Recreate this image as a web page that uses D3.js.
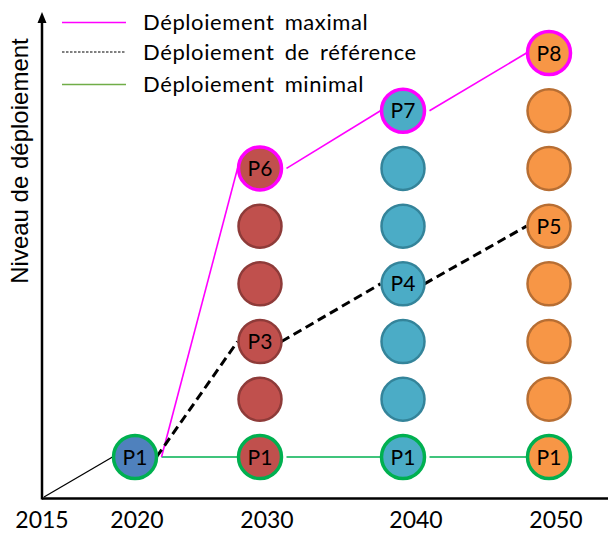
<!DOCTYPE html>
<html>
<head>
<meta charset="utf-8">
<script src="https://cdn.jsdelivr.net/npm/d3@7"></script>
<style>
  html, body { margin: 0; padding: 0; background: #fff; }
  svg { display: block; }
</style>
</head>
<body>
<svg id="chart" width="608" height="534"></svg>
<script>
// ---- data ----
const years = [2020, 2030, 2040, 2050];
const axisYears = [2015, 2020, 2030, 2040, 2050];
const circlesPerYear = [1, 6, 7, 8];
const fillColors = ["#4F81BD", "#C0504D", "#4BACC6", "#F79646"];
const edgeColors = ["#3A6395", "#8E3B39", "#34849A", "#B76E33"];
const maxLevels = [0, 5, 6, 7];
const maxLabels = ["P1", "P6", "P7", "P8"];
const refLevels = [0, 2, 3, 4];
const refLabels = ["P1", "P3", "P4", "P5"];
const minLevels = [0, 0, 0, 0];
const minLabels = ["P1", "P1", "P1", "P1"];
const legendLabels = ["Déploiement maximal", "Déploiement de référence", "Déploiement minimal"];
const yTitle = "Niveau de déploiement";

// ---- scales ----
const svg = d3.select("#chart");
const x = d3.scaleLinear().domain([2015, 2020, 2030, 2040, 2050]).range([42, 135, 260, 403, 549]);
const xLab = d3.scaleLinear().domain([2015, 2020, 2030, 2040, 2050]).range([42, 137, 267, 416, 556]);
const y = d3.scaleLinear().domain([0, 7]).range([457, 53]);
const r = 21.5;
const font = "Lato, 'Open Sans', sans-serif";

const MAG = "#FF00FF", GRN = "#00B050";

// ---- axes ----
svg.append("line").attr("x1", 42).attr("x2", 608).attr("y1", 498.5).attr("y2", 498.5)
  .attr("stroke", "#000").attr("stroke-width", 2.5);
svg.append("line").attr("x1", 42).attr("x2", 42).attr("y1", 499.5).attr("y2", 20)
  .attr("stroke", "#000").attr("stroke-width", 2.5);
svg.append("path").attr("d", "M42,12 L37.5,23 L46.5,23 Z").attr("fill", "#000");

svg.selectAll("text.year").data(axisYears).join("text").attr("class", "year")
  .attr("x", d => xLab(d)).attr("y", 528)
  .attr("text-anchor", "middle").attr("font-family", font).attr("font-size", 23)
  .attr("fill", "#000").text(d => d);

svg.append("text").attr("transform", "translate(28,161) rotate(-90)")
  .attr("text-anchor", "middle").attr("font-family", "'Liberation Sans', Arial, sans-serif")
  .attr("font-size", 24).attr("fill", "#000").text(yTitle);

// ---- connecting lines ----
function segs(levels, gap) {
  const out = [];
  for (let i = 0; i < levels.length - 1; i++) {
    out.push({
      x1: x(years[i]) + r + gap, y1: y(levels[i]),
      x2: x(years[i + 1]) - r - 1, y2: y(levels[i + 1])
    });
  }
  return out;
}
// origin line
svg.append("line").attr("x1", x(2015) + 2).attr("y1", 497)
  .attr("x2", x(2020) - r - 1).attr("y2", y(0))
  .attr("stroke", "#000").attr("stroke-width", 1.3);

const lineSpecs = [
  { levels: minLevels, color: GRN, width: 1.6, dash: null, gap: 5 },
  { levels: maxLevels, color: MAG, width: 1.6, dash: null, gap: 5 },
  { levels: refLevels, color: "#000", width: 3, dash: "9,5", gap: 0 }
];
lineSpecs.forEach(s => {
  svg.append("g").selectAll("line").data(segs(s.levels, s.gap)).join("line")
    .attr("x1", d => d.x1).attr("y1", d => d.y1).attr("x2", d => d.x2).attr("y2", d => d.y2)
    .attr("stroke", s.color).attr("stroke-width", s.width)
    .attr("stroke-dasharray", s.dash);
});

// ---- circles ----
const circles = [];
years.forEach((yr, i) => {
  for (let l = 0; l < circlesPerYear[i]; l++) {
    let stroke = edgeColors[i], sw = 2.5, label = null;
    if (l === minLevels[i]) { stroke = GRN; sw = 3.5; label = minLabels[i]; }
    if (l === maxLevels[i] && i > 0) { stroke = MAG; sw = 3.5; label = maxLabels[i]; }
    if (l === refLevels[i] && i > 0) { label = refLabels[i]; }
    circles.push({ yr, i, l, stroke, sw, label });
  }
});
const cg = svg.append("g");
cg.selectAll("circle").data(circles).join("circle")
  .attr("cx", d => x(d.yr)).attr("cy", d => y(d.l)).attr("r", r)
  .attr("fill", d => fillColors[d.i]).attr("stroke", d => d.stroke).attr("stroke-width", d => d.sw);
cg.selectAll("text").data(circles.filter(d => d.label)).join("text")
  .attr("x", d => x(d.yr)).attr("y", d => y(d.l) + 7.5)
  .attr("text-anchor", "middle").attr("font-family", font).attr("font-size", 21)
  .attr("fill", "#000").text(d => d.label);

// ---- legend ----
const legY = [22.5, 52, 84.5];
const legStyles = [
  { color: MAG, width: 1.5, dash: null },
  { color: "#000", width: 1.2, dash: "2.5,1.5" },
  { color: "#70AD47", width: 1.5, dash: null }
];
const lg = svg.append("g");
lg.selectAll("line").data(legendLabels).join("line")
  .attr("x1", 62).attr("x2", 126).attr("y1", (d, i) => legY[i]).attr("y2", (d, i) => legY[i])
  .attr("stroke", (d, i) => legStyles[i].color).attr("stroke-width", (d, i) => legStyles[i].width)
  .attr("stroke-dasharray", (d, i) => legStyles[i].dash);
lg.selectAll("text").data(legendLabels).join("text")
  .attr("x", 143).attr("y", (d, i) => legY[i] + 7.5)
  .attr("font-family", font).attr("font-size", 22).attr("letter-spacing", 0.6)
  .attr("word-spacing", 4).attr("fill", "#000").text(d => d);
</script>
</body>
</html>
